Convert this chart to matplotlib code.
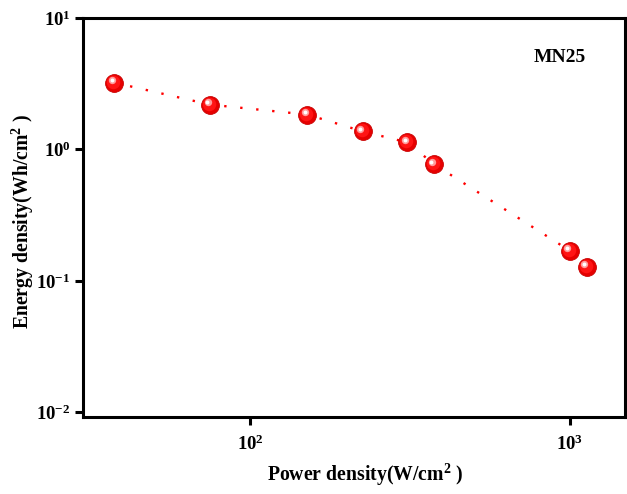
import matplotlib

matplotlib.use("Agg")
import matplotlib.pyplot as plt
from matplotlib.transforms import offset_copy

# values
power_density = [37.6, 75, 151, 225, 310, 376, 1000, 1130]
energy_density = [3.22, 2.19, 1.84, 1.37, 1.13, 0.77, 0.169, 0.128]
sample_label = "MN25"

plt.rcParams["font.family"] = ["Liberation Serif", "DejaVu Serif"]
plt.rcParams["font.weight"] = "bold"
plt.rcParams["mathtext.fontset"] = "custom"
plt.rcParams["mathtext.rm"] = "Liberation Serif:bold"
plt.rcParams["mathtext.bf"] = "Liberation Serif:bold"
plt.rcParams["mathtext.it"] = "Liberation Serif:bold:italic"
plt.rcParams["axes.unicode_minus"] = False

fig = plt.figure(figsize=(6.27, 4.94), dpi=100)
ax = fig.add_axes([0.1324, 0.1559, 0.8644, 0.8077])

ax.plot(power_density, energy_density, color="#ff0000", linewidth=1.7,
        linestyle=(0, (1, 5.8)), zorder=2)

# sphere-looking markers: base disc, softer inner disc, white highlight
ax.scatter(power_density, energy_density, s=165, color="#e60000",
           edgecolors="#c80000", linewidths=0.6, zorder=3)
ax.scatter(power_density, energy_density, s=95, color="#ff1414",
           linewidths=0, zorder=4,
           transform=offset_copy(ax.transData, fig, x=-0.7, y=0.7, units="points"))
ax.scatter(power_density, energy_density, s=28, color="#ff9c9c",
           linewidths=0, zorder=5,
           transform=offset_copy(ax.transData, fig, x=-1.8, y=1.8, units="points"))
ax.scatter(power_density, energy_density, s=8, color="white",
           linewidths=0, zorder=6,
           transform=offset_copy(ax.transData, fig, x=-2.0, y=2.0, units="points"))

ax.set_xscale("log")
ax.set_yscale("log")
ax.set_xlim(30, 1486)
ax.set_ylim(0.0092, 10)
ax.minorticks_off()

for side in ("left", "right", "top", "bottom"):
    ax.spines[side].set_linewidth(2.2)
ax.tick_params(axis="both", which="major", direction="out", length=6, width=2.2,
               labelsize=13.5)
ax.tick_params(axis="x", pad=7)
ax.tick_params(axis="y", pad=3)

ax.text(0.88, 0.90, sample_label, transform=ax.transAxes, fontsize=14,
        fontweight="bold", ha="center", va="center")

ax.set_xlabel(r"Power density(W/cm$^{2}$ )", fontsize=14.2, fontweight="bold")
ax.set_ylabel(r"Energy density(Wh/cm$^{2}$ )", fontsize=14.2, fontweight="bold")
ax.xaxis.set_label_coords(0.52, -0.112)
ax.yaxis.set_label_coords(-0.086, 0.49)

fig.savefig("out.png", dpi=100)
